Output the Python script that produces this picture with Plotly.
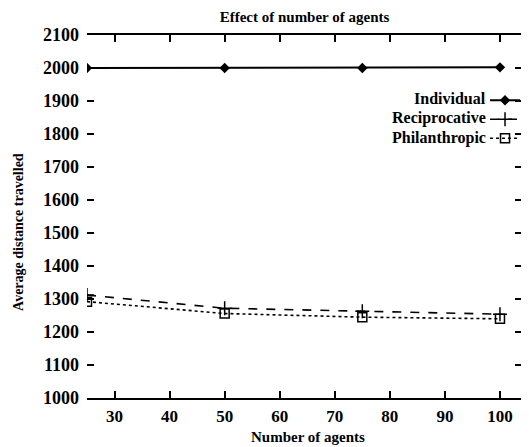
import plotly.graph_objects as go

agents = [25, 50, 75, 100]
individual = [2000, 2000, 2000, 2002]
reciprocative = [1312, 1272, 1263, 1254]
philanthropic = [1292, 1256, 1245, 1240]
series_names = ["Individual", "Reciprocative", "Philanthropic"]

x_ticks = [30, 40, 50, 60, 70, 80, 90, 100]
y_ticks = [1000, 1100, 1200, 1300, 1400, 1500, 1600, 1700, 1800, 1900, 2000, 2100]

font = "Liberation Serif"

fig = go.Figure()
fig.add_trace(go.Scatter(x=agents, y=individual, name=" ", mode="lines+markers",
                         line=dict(color="black", width=2, dash="solid"),
                         marker=dict(symbol="diamond", size=8, color="black")))
fig.add_trace(go.Scatter(x=agents, y=reciprocative, name=" ", mode="lines+markers",
                         line=dict(color="black", width=1.6, dash="dash"),
                         marker=dict(symbol="cross-thin", size=10, color="black",
                                     line=dict(color="black", width=1.5))))
fig.add_trace(go.Scatter(x=agents, y=philanthropic, name=" ", mode="lines+markers",
                         line=dict(color="black", width=1.6, dash="dot"),
                         marker=dict(symbol="square-open", size=9, color="black",
                                     line=dict(color="black", width=1.5))))

# gnuplot-style key: right-aligned labels to the left of the samples
key_y = [0.826, 0.771, 0.716]
for name, ky in zip(series_names, key_y):
    fig.add_annotation(text=f"<b>{name}</b>", xref="paper", yref="paper", x=0.922, y=ky,
                       xanchor="right", yanchor="middle", showarrow=False,
                       font=dict(size=16, family=font, color="black"))

# axis titles
fig.add_annotation(text="<b>Number of agents</b>", xref="paper", yref="paper", x=0.508, y=-0.107,
                   xanchor="center", yanchor="middle", showarrow=False,
                   font=dict(size=15, family=font, color="black"))
fig.add_annotation(text="<b>Average distance travelled</b>", xref="paper", yref="paper",
                   x=-0.159, y=0.457, textangle=-90, xanchor="center", yanchor="middle",
                   showarrow=False, font=dict(size=14, family=font, color="black"))

fig.update_layout(
    width=560, height=447,
    margin=dict(l=79, r=46, t=27, b=57),
    paper_bgcolor="white", plot_bgcolor="white",
    font=dict(family=font, size=18, color="black"),
    title=dict(text="<b>Effect of number of agents</b>", xref="paper", x=0.5, xanchor="center",
               y=0.993, yanchor="top", font=dict(size=15, family=font)),
    showlegend=True,
    legend=dict(x=0.915, xanchor="left", y=0.86, yanchor="top", bgcolor="rgba(0,0,0,0)",
                font=dict(size=9, family=font), tracegroupgap=0, itemwidth=30),
)
fig.update_xaxes(range=[25, 104], tickvals=x_ticks, ticktext=[f"<b>{v}</b>" for v in x_ticks],
                 ticks="inside", ticklen=7, tickwidth=2, tickcolor="black",
                 showline=True, linecolor="black", linewidth=2, mirror="ticks",
                 showgrid=False, zeroline=False, ticklabelstandoff=2, automargin=False,
                 tickfont=dict(size=17))
fig.update_yaxes(range=[1000, 2100], tickvals=y_ticks, ticktext=[f"<b>{v}</b>" for v in y_ticks],
                 ticks="inside", ticklen=7, tickwidth=2, tickcolor="black",
                 showline=False, mirror="ticks", showgrid=False, zeroline=False,
                 ticklabelstandoff=7, automargin=False)

fig.write_html("out.html")
